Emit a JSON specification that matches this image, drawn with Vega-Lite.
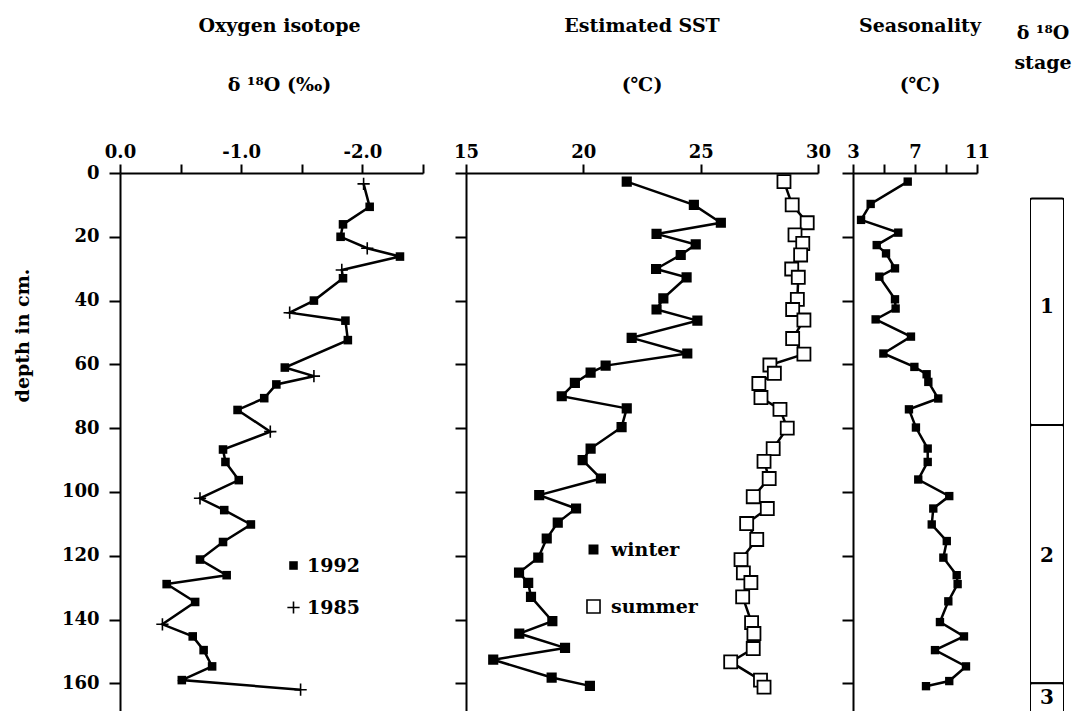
{
  "$schema": "https://vega.github.io/schema/vega-lite/v6.json",
  "background": "white",
  "padding": {"left": 13, "top": 17, "right": 5, "bottom": 0},
  "bounds": "flush",
  "spacing": 0,
  "resolve": {
    "scale": {"size": "independent", "shape": "independent", "fill": "independent"},
    "legend": {"size": "independent", "shape": "independent", "fill": "independent"}
  },
  "datasets": {
    "iso": [
      {"depth": 3.4, "d18O": -2.01, "year": "1985"},
      {"depth": 10.6, "d18O": -2.06, "year": "1992"},
      {"depth": 16.1, "d18O": -1.84, "year": "1992"},
      {"depth": 20, "d18O": -1.82, "year": "1992"},
      {"depth": 23.6, "d18O": -2.04, "year": "1985"},
      {"depth": 26.2, "d18O": -2.31, "year": "1992"},
      {"depth": 30.4, "d18O": -1.83, "year": "1985"},
      {"depth": 33, "d18O": -1.84, "year": "1992"},
      {"depth": 40, "d18O": -1.6, "year": "1992"},
      {"depth": 43.8, "d18O": -1.4, "year": "1985"},
      {"depth": 46.3, "d18O": -1.86, "year": "1992"},
      {"depth": 52.4, "d18O": -1.88, "year": "1992"},
      {"depth": 61, "d18O": -1.36, "year": "1992"},
      {"depth": 63.7, "d18O": -1.6, "year": "1985"},
      {"depth": 66.3, "d18O": -1.29, "year": "1992"},
      {"depth": 70.6, "d18O": -1.19, "year": "1992"},
      {"depth": 74.3, "d18O": -0.97, "year": "1992"},
      {"depth": 81.1, "d18O": -1.24, "year": "1985"},
      {"depth": 86.7, "d18O": -0.85, "year": "1992"},
      {"depth": 90.6, "d18O": -0.87, "year": "1992"},
      {"depth": 96.3, "d18O": -0.98, "year": "1992"},
      {"depth": 102, "d18O": -0.66, "year": "1985"},
      {"depth": 105.7, "d18O": -0.86, "year": "1992"},
      {"depth": 110.2, "d18O": -1.08, "year": "1992"},
      {"depth": 115.7, "d18O": -0.85, "year": "1992"},
      {"depth": 121.2, "d18O": -0.66, "year": "1992"},
      {"depth": 126.1, "d18O": -0.88, "year": "1992"},
      {"depth": 128.9, "d18O": -0.385, "year": "1992"},
      {"depth": 134.5, "d18O": -0.62, "year": "1992"},
      {"depth": 141.5, "d18O": -0.35, "year": "1985"},
      {"depth": 145.3, "d18O": -0.6, "year": "1992"},
      {"depth": 149.6, "d18O": -0.69, "year": "1992"},
      {"depth": 154.7, "d18O": -0.76, "year": "1992"},
      {"depth": 159, "d18O": -0.51, "year": "1992"},
      {"depth": 162, "d18O": -1.49, "year": "1985"}
    ],
    "sst": [
      {"depth": 2.7, "temp": 21.85, "season": "winter"},
      {"depth": 10, "temp": 24.71, "season": "winter"},
      {"depth": 15.6, "temp": 25.86, "season": "winter"},
      {"depth": 19.1, "temp": 23.12, "season": "winter"},
      {"depth": 22.4, "temp": 24.79, "season": "winter"},
      {"depth": 25.7, "temp": 24.15, "season": "winter"},
      {"depth": 30.1, "temp": 23.1, "season": "winter"},
      {"depth": 32.7, "temp": 24.4, "season": "winter"},
      {"depth": 39.3, "temp": 23.41, "season": "winter"},
      {"depth": 42.8, "temp": 23.12, "season": "winter"},
      {"depth": 46.3, "temp": 24.86, "season": "winter"},
      {"depth": 51.7, "temp": 22.06, "season": "winter"},
      {"depth": 56.6, "temp": 24.43, "season": "winter"},
      {"depth": 60.4, "temp": 20.95, "season": "winter"},
      {"depth": 62.6, "temp": 20.31, "season": "winter"},
      {"depth": 65.8, "temp": 19.64, "season": "winter"},
      {"depth": 70, "temp": 19.08, "season": "winter"},
      {"depth": 73.8, "temp": 21.85, "season": "winter"},
      {"depth": 79.7, "temp": 21.63, "season": "winter"},
      {"depth": 86.4, "temp": 20.31, "season": "winter"},
      {"depth": 90, "temp": 19.97, "season": "winter"},
      {"depth": 95.8, "temp": 20.75, "season": "winter"},
      {"depth": 101, "temp": 18.12, "season": "winter"},
      {"depth": 105.2, "temp": 19.69, "season": "winter"},
      {"depth": 109.6, "temp": 18.91, "season": "winter"},
      {"depth": 114.6, "temp": 18.44, "season": "winter"},
      {"depth": 120.6, "temp": 18.08, "season": "winter"},
      {"depth": 125.3, "temp": 17.26, "season": "winter"},
      {"depth": 128.5, "temp": 17.65, "season": "winter"},
      {"depth": 132.9, "temp": 17.77, "season": "winter"},
      {"depth": 140.5, "temp": 18.68, "season": "winter"},
      {"depth": 144.4, "temp": 17.27, "season": "winter"},
      {"depth": 148.9, "temp": 19.22, "season": "winter"},
      {"depth": 152.6, "temp": 16.16, "season": "winter"},
      {"depth": 158.2, "temp": 18.65, "season": "winter"},
      {"depth": 160.8, "temp": 20.28, "season": "winter"},
      {"depth": 2.7, "temp": 28.55, "season": "summer"},
      {"depth": 10, "temp": 28.9, "season": "summer"},
      {"depth": 15.6, "temp": 29.54, "season": "summer"},
      {"depth": 19.4, "temp": 29.02, "season": "summer"},
      {"depth": 22.1, "temp": 29.35, "season": "summer"},
      {"depth": 25.7, "temp": 29.26, "season": "summer"},
      {"depth": 30.1, "temp": 28.88, "season": "summer"},
      {"depth": 32.7, "temp": 29.16, "season": "summer"},
      {"depth": 39.6, "temp": 29.12, "season": "summer"},
      {"depth": 42.8, "temp": 28.92, "season": "summer"},
      {"depth": 46.1, "temp": 29.4, "season": "summer"},
      {"depth": 51.9, "temp": 28.92, "season": "summer"},
      {"depth": 56.8, "temp": 29.4, "season": "summer"},
      {"depth": 60.2, "temp": 27.95, "season": "summer"},
      {"depth": 62.8, "temp": 28.14, "season": "summer"},
      {"depth": 66, "temp": 27.48, "season": "summer"},
      {"depth": 70.4, "temp": 27.57, "season": "summer"},
      {"depth": 74.1, "temp": 28.38, "season": "summer"},
      {"depth": 80, "temp": 28.69, "season": "summer"},
      {"depth": 86.4, "temp": 28.09, "season": "summer"},
      {"depth": 90.4, "temp": 27.7, "season": "summer"},
      {"depth": 95.8, "temp": 27.92, "season": "summer"},
      {"depth": 101.5, "temp": 27.24, "season": "summer"},
      {"depth": 105.2, "temp": 27.84, "season": "summer"},
      {"depth": 109.9, "temp": 26.96, "season": "summer"},
      {"depth": 114.9, "temp": 27.39, "season": "summer"},
      {"depth": 121.2, "temp": 26.72, "season": "summer"},
      {"depth": 125.4, "temp": 26.82, "season": "summer"},
      {"depth": 128.4, "temp": 27.14, "season": "summer"},
      {"depth": 132.9, "temp": 26.79, "season": "summer"},
      {"depth": 141, "temp": 27.17, "season": "summer"},
      {"depth": 144.4, "temp": 27.27, "season": "summer"},
      {"depth": 149.1, "temp": 27.24, "season": "summer"},
      {"depth": 153.3, "temp": 26.28, "season": "summer"},
      {"depth": 159, "temp": 27.55, "season": "summer"},
      {"depth": 161.2, "temp": 27.7, "season": "summer"}
    ],
    "seas": [
      {"depth": 2.7, "range": 6.53}, {"depth": 9.7, "range": 4.14}, {"depth": 14.7, "range": 3.52},
      {"depth": 18.7, "range": 5.92}, {"depth": 22.6, "range": 4.53}, {"depth": 25.2, "range": 5.13},
      {"depth": 29.9, "range": 5.71}, {"depth": 32.5, "range": 4.7}, {"depth": 39.6, "range": 5.71},
      {"depth": 42.5, "range": 5.75}, {"depth": 45.9, "range": 4.46}, {"depth": 51.3, "range": 6.74},
      {"depth": 56.6, "range": 4.96}, {"depth": 60.8, "range": 6.96}, {"depth": 63.1, "range": 7.75},
      {"depth": 65.5, "range": 7.86}, {"depth": 70.7, "range": 8.5}, {"depth": 74.1, "range": 6.61},
      {"depth": 79.8, "range": 7.06}, {"depth": 86.4, "range": 7.82}, {"depth": 90.6, "range": 7.82},
      {"depth": 96.1, "range": 7.21}, {"depth": 101.3, "range": 9.21}, {"depth": 105.2, "range": 8.18},
      {"depth": 110.2, "range": 8.08}, {"depth": 115.4, "range": 9.05}, {"depth": 120.6, "range": 8.83},
      {"depth": 126.1, "range": 9.69}, {"depth": 128.9, "range": 9.75}, {"depth": 134.3, "range": 9.15},
      {"depth": 140.8, "range": 8.61}, {"depth": 145.3, "range": 10.16}, {"depth": 149.6, "range": 8.29},
      {"depth": 154.7, "range": 10.29}, {"depth": 159.3, "range": 9.21}, {"depth": 160.9, "range": 7.71}
    ],
    "stages": [
      {"stage": "1", "top": 8, "bottom": 79, "label_depth": 42},
      {"stage": "2", "top": 79, "bottom": 160, "label_depth": 120},
      {"stage": "3", "top": 160, "bottom": 180, "label_depth": 164.5}
    ]
  },
  "hconcat": [
    {
      "width": 303,
      "height": 539,
      "data": {"name": "iso"},
      "title": {"text": ["Oxygen isotope", "δ ¹⁸O (‰)"], "lineHeight": 59, "offset": 48, "dx": 8},
      "encoding": {
        "y": {"field": "depth", "type": "quantitative", "scale": {"domain": [0, 169], "nice": false, "zero": false, "reverse": true},
          "axis": {"values": [0, 20, 40, 60, 80, 100, 120, 140, 160], "title": "depth in cm.", "titleX": -98, "titleY": 162, "titleAngle": 270, "titleAlign": "center", "titleBaseline": "middle", "labelPadding": 10, "tickSize": 11}},
        "x": {"field": "d18O", "type": "quantitative", "scale": {"domain": [0, -2.5], "nice": false, "zero": false},
          "axis": {"orient": "top", "title": null, "values": [0, -0.5, -1, -1.5, -2, -2.5],
            "labelExpr": "datum.value == 0 ? '0.0' : datum.value == -1 ? '-1.0' : datum.value == -2 ? '-2.0' : ''"}}
      },
      "layer": [
        {"mark": {"type": "line", "color": "black", "strokeWidth": 2.5}, "encoding": {"order": {"field": "depth", "type": "quantitative"}}},
        {"mark": {"type": "point", "filled": true, "color": "black", "opacity": 1, "size": 150},
          "encoding": {
            "shape": {"field": "year", "type": "nominal",
              "scale": {"domain": ["1992", "1985"], "range": ["M-0.7,-0.7H0.7V0.7H-0.7Z", "M-1,-0.13H1V0.13H-1Z M-0.13,-1H0.13V1H-0.13Z"]},
              "legend": {"orient": "none", "legendX": 164, "legendY": 383, "title": null, "rowPadding": 22, "labelOffset": 4,
                "symbolFillColor": "black", "symbolSize": 150,
                "encode": {"symbols": {"update": {"fill": {"value": "black"}, "opacity": {"value": 1}}}}}}
          }}
      ]
    },
    {"width": 43, "height": 539, "data": {"values": [{}]}, "mark": {"type": "point", "opacity": 0}, "encoding": {}},
    {
      "width": 352,
      "height": 539,
      "data": {"name": "sst"},
      "title": {"text": ["Estimated SST", "(℃)"], "lineHeight": 59, "offset": 48},
      "encoding": {
        "y": {"field": "depth", "type": "quantitative", "scale": {"domain": [0, 169], "nice": false, "zero": false, "reverse": true},
          "axis": {"values": [0, 20, 40, 60, 80, 100, 120, 140, 160], "labels": false, "title": null, "tickSize": 11}},
        "x": {"field": "temp", "type": "quantitative", "scale": {"domain": [15, 30], "nice": false, "zero": false},
          "axis": {"orient": "top", "title": null, "values": [15, 20, 25, 30]}}
      },
      "layer": [
        {"mark": {"type": "line", "color": "black", "strokeWidth": 2.5},
          "encoding": {"detail": {"field": "season", "type": "nominal"}, "order": {"field": "depth", "type": "quantitative"}}},
        {"mark": {"type": "point", "shape": "square", "stroke": "black", "strokeWidth": 1.8, "opacity": 1},
          "encoding": {
            "fill": {"field": "season", "type": "nominal", "scale": {"domain": ["winter", "summer"], "range": ["black", "white"]},
              "legend": {"orient": "none", "legendX": 118, "legendY": 367, "title": null, "rowPadding": 36, "labelOffset": 8}},
            "size": {"field": "season", "type": "nominal", "scale": {"domain": ["winter", "summer"], "range": [70, 170]},
              "legend": {"orient": "none", "legendX": 118, "legendY": 367, "title": null, "rowPadding": 36, "labelOffset": 8}}
          }}
      ]
    },
    {"width": 35, "height": 539, "data": {"values": [{}]}, "mark": {"type": "point", "opacity": 0}, "encoding": {}},
    {
      "width": 124,
      "height": 539,
      "data": {"name": "seas"},
      "title": {"text": ["Seasonality", "(℃)"], "lineHeight": 59, "offset": 48, "dx": 5},
      "encoding": {
        "y": {"field": "depth", "type": "quantitative", "scale": {"domain": [0, 169], "nice": false, "zero": false, "reverse": true},
          "axis": {"values": [0, 20, 40, 60, 80, 100, 120, 140, 160], "labels": false, "title": null, "tickSize": 11}},
        "x": {"field": "range", "type": "quantitative", "scale": {"domain": [3, 11], "nice": false, "zero": false},
          "axis": {"orient": "top", "title": null, "values": [3, 5, 7, 9, 11],
            "labelExpr": "datum.value == 3 || datum.value == 7 || datum.value == 11 ? datum.label : ''"}}
      },
      "layer": [
        {"mark": {"type": "line", "color": "black", "strokeWidth": 2.5}, "encoding": {"order": {"field": "depth", "type": "quantitative"}}},
        {"mark": {"type": "point", "shape": "square", "filled": true, "color": "black", "size": 70, "opacity": 1}}
      ]
    },
    {"width": 53, "height": 539, "data": {"values": [{}]}, "mark": {"type": "point", "opacity": 0}, "encoding": {}},
    {
      "width": 34,
      "height": 539,
      "data": {"name": "stages"},
      "title": {"text": ["δ ¹⁸O", "stage"], "lineHeight": 30, "offset": 100, "dx": -4},
      "layer": [
        {"mark": {"type": "rect", "fill": "white", "stroke": "black", "strokeWidth": 2, "clip": true, "cornerRadius": 2},
          "encoding": {
            "y": {"field": "top", "type": "quantitative", "scale": {"domain": [0, 169], "nice": false, "zero": false, "reverse": true}, "axis": null},
            "y2": {"field": "bottom"}
          }},
        {"mark": {"type": "text", "fontSize": 20, "fontWeight": "bold", "color": "black", "align": "center", "baseline": "middle"},
          "encoding": {
            "y": {"field": "label_depth", "type": "quantitative", "scale": {"domain": [0, 169], "nice": false, "zero": false, "reverse": true}, "axis": null},
            "text": {"field": "stage"}
          }}
      ]
    }
  ],
  "config": {
    "font": "DejaVu Serif",
    "view": {"stroke": null},
    "title": {"font": "DejaVu Serif", "fontSize": 19, "fontWeight": "bold", "color": "black", "anchor": "middle"},
    "axis": {
      "domainColor": "black", "domainWidth": 2, "tickColor": "black", "tickWidth": 2, "tickSize": 9,
      "labelFont": "DejaVu Serif", "labelFontSize": 18, "labelFontWeight": "bold", "labelColor": "black", "labelPadding": 3,
      "labelFlush": false, "labelOverlap": false, "grid": false,
      "titleFont": "DejaVu Serif", "titleFontSize": 19, "titleFontWeight": "bold", "titleColor": "black"
    },
    "legend": {
      "labelFont": "DejaVu Serif", "labelFontSize": 19, "labelFontWeight": "bold", "labelColor": "black", "padding": 0,
      "symbolStrokeColor": "black", "symbolFillColor": "black", "symbolStrokeWidth": 1.6, "labelOffset": 10
    }
  }
}
